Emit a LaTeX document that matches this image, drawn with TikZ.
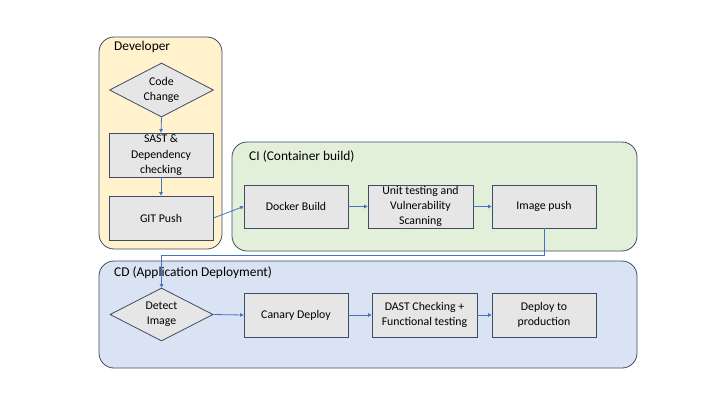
\documentclass[tikz,border=0pt]{standalone}
\usepackage{fontspec}
\setmainfont{Carlito}
\usetikzlibrary{shapes.geometric,arrows.meta}
\definecolor{bordercol}{HTML}{3E4C66}
\definecolor{boxgray}{HTML}{E7E6E6}
\definecolor{devfill}{HTML}{FFF2CC}
\definecolor{cifill}{HTML}{E2F0D9}
\definecolor{cdfill}{HTML}{DAE3F3}
\definecolor{linecol}{HTML}{4472C4}
\tikzset{
  container/.style={draw=bordercol, line width=0.8pt, rounded corners=15pt, inner sep=0pt},
  title/.style={font=\fontsize{13.4}{16}\selectfont, inner sep=0pt, anchor=west},
  stepbox/.style={rectangle, draw=bordercol, fill=boxgray, line width=0.8pt, align=center,
    font=\fontsize{11.8}{15.3}\selectfont, inner sep=0pt, minimum width=104pt, minimum height=43pt},
  decision/.style={diamond, draw=bordercol, fill=boxgray, line width=0.8pt, align=center, aspect=2,
    font=\fontsize{11.8}{15.3}\selectfont, inner sep=0pt, minimum width=104pt, minimum height=54pt},
  conn/.style={draw=linecol, line width=0.8pt, -{Triangle[length=3.5pt,width=3.5pt]}}
}
\begin{document}
\begin{tikzpicture}[x=1pt,y=-1pt]
\useasboundingbox[fill=white] (0,0) rectangle (720,405);
% containers
\node[container, fill=devfill, minimum width=123pt, minimum height=212pt] (dev) at (160.5,143) {};
\node[container, fill=cifill, minimum width=405pt, minimum height=109pt] (ci) at (434.5,196.5) {};
\node[container, fill=cdfill, minimum width=538pt, minimum height=107pt] (cd) at (368,314.5) {};
\node[title] (devt) at (114,47) {Developer};
\node[title] (cit) at (249,157) {CI (Container build)};
\node[title] (cdt) at (114,273) {CD (Application Deployment)};
% developer
\node[decision] (code) at (161.5,90) {Code\\Change};
\node[stepbox, minimum height=44pt] (sast) at (161,155) {SAST \&\\Dependency\\checking};
\node[stepbox, minimum height=44pt] (git) at (161,218) {GIT Push};
% CI
\node[stepbox] (docker) at (296,206.5) {Docker Build};
\node[stepbox, minimum width=105pt] (unit) at (420.5,206.5) {Unit testing and\\Vulnerability\\Scanning};
\node[stepbox] (push) at (544,206.5) {Image push};
% CD
\node[decision, minimum width=103pt, minimum height=53pt] (detect) at (161.5,314.5) {Detect\\Image};
\node[stepbox, minimum height=44pt] (canary) at (296,315) {Canary Deploy};
\node[stepbox, minimum width=105pt, minimum height=44pt] (dast) at (424.5,315) {DAST Checking +\\Functional testing};
\node[stepbox, minimum height=44pt] (prod) at (544,315) {Deploy to\\production};
% connectors
\draw[conn] (code.south) -- (sast.north);
\draw[conn] (sast.south) -- (git.north);
\draw[conn] (git.east) -- (docker.west);
\draw[conn] (docker.east) -- (unit.west);
\draw[conn] (unit.east) -- (push.west);
\draw[conn] (push.south) -- ++(0,27) -| (detect.north);
\draw[conn] (detect.east) -- (canary.west);
\draw[conn] (canary.east) -- (dast.west);
\draw[conn] (dast.east) -- (prod.west);
\end{tikzpicture}
\end{document}
